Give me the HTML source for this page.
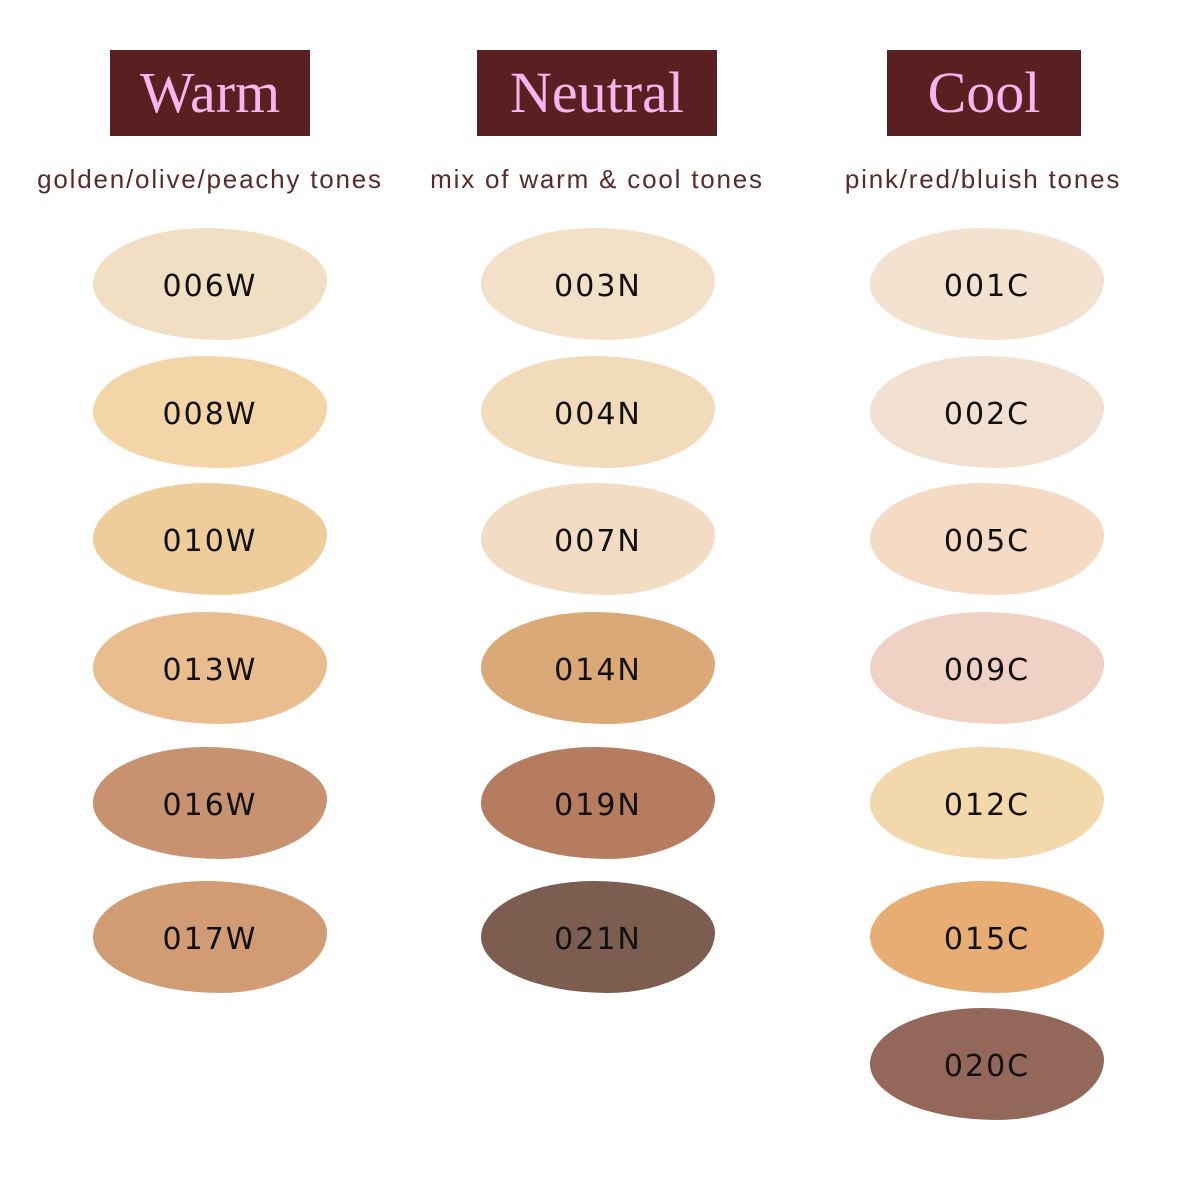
<!DOCTYPE html>
<html><head><meta charset="utf-8">
<style>
html,body{margin:0;padding:0;background:#fff;}
#root{position:relative;width:1200px;height:1200px;overflow:hidden;background:#fff;}
.hdr{position:absolute;background:#5a1f20;color:#f7b6ee;font-family:"Liberation Serif",serif;font-size:58px;text-align:center;line-height:86px;height:86px;}
.sub{position:absolute;color:#5a2a2a;font-family:"Liberation Sans",sans-serif;font-size:26px;text-align:center;width:420px;letter-spacing:1.8px;}
.sw{position:absolute;border-radius:48% 52% 46% 54% / 50% 46% 54% 50%;}
.lbl{position:absolute;font-family:"DejaVu Sans","Liberation Sans",sans-serif;font-size:30px;color:#111;text-align:center;width:240px;letter-spacing:2px;}
</style></head>
<body>
<div id="root">
<div class="hdr" style="left:110px;top:50px;width:200px">Warm</div>
<div class="hdr" style="left:477px;top:50px;width:240px">Neutral</div>
<div class="hdr" style="left:887px;top:50px;width:194px">Cool</div>
<div class="sub" style="left:0px;top:164px">golden/olive/peachy tones</div>
<div class="sub" style="left:387px;top:164px">mix of warm &amp; cool tones</div>
<div class="sub" style="left:773px;top:164px">pink/red/bluish tones</div>
</div>
<script>
const shadeNames=[
 ["006W","008W","010W","013W","016W","017W"],
 ["003N","004N","007N","014N","019N","021N"],
 ["001C","002C","005C","009C","012C","015C","020C"]];
const shadeColors=[
 ["#f1dfc4","#f3d5a7","#efcd9a","#eabd8f","#c8916f","#d19c73"],
 ["#f3e0c8","#f2dbbb","#f3dcc4","#dba877","#b67c60","#7e5d51"],
 ["#f4e2d0","#f2e1d1","#f5dbc3","#efd2c3","#f2d8aa","#e8ad72","#93675a"]];
const colCenters=[210,598,987];
const rowCenters=[283,411,538,667,802,936,1063];
const root=document.getElementById('root');
shadeNames.forEach((col,ci)=>{
 col.forEach((n,ri)=>{
  const cx=colCenters[ci], cy=rowCenters[ri];
  const s=document.createElement('div');
  s.className='sw';
  
  
  s.style.left=(cx-117)+'px';s.style.top=(cy-55)+'px';
  s.style.width='234px';s.style.height='112px';
  s.style.background=shadeColors[ci][ri];
  root.appendChild(s);
  const l=document.createElement('div');
  l.className='lbl';
  
  
  l.textContent=n;
  l.style.left=(cx-120)+'px';l.style.top=(cy-14)+'px';
  root.appendChild(l);
 });
});
</script>
</body></html>
